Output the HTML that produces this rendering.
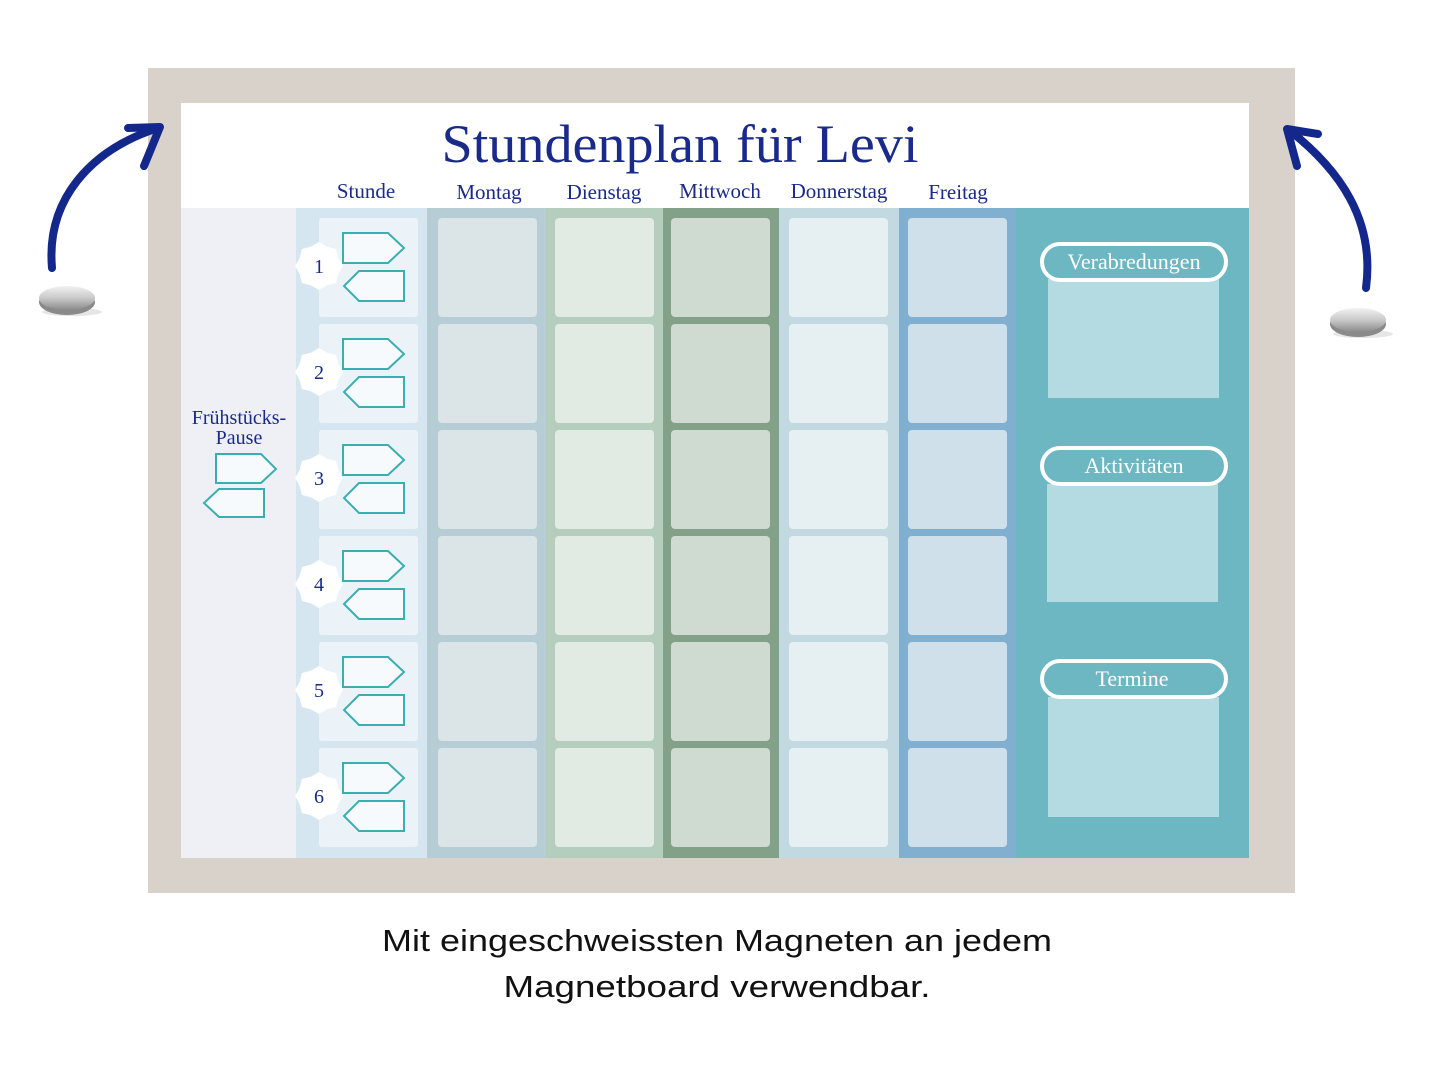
<!DOCTYPE html>
<html><head><meta charset="utf-8"><style>
html,body{margin:0;padding:0;background:#fff}
svg{display:block}
</style></head><body>
<svg width="1445" height="1084" viewBox="0 0 1445 1084" xmlns="http://www.w3.org/2000/svg">
<defs>
<linearGradient id="mg" x1="0" y1="0" x2="0" y2="1">
<stop offset="0" stop-color="#f2f2f2"/><stop offset="0.5" stop-color="#c9c9c9"/><stop offset="1" stop-color="#8a8a8a"/>
</linearGradient>
<g id="row">
<rect x="319" y="218" width="99" height="99" rx="3" fill="#ebf3f9"/>
<polygon points="343,233 388,233 404,248 388,263 343,263" fill="#f7fafc" stroke="#3aaeb0" stroke-width="2"/>
<polygon points="404,271 359,271 344,286 359,301 404,301" fill="#f7fafc" stroke="#3aaeb0" stroke-width="2"/>
<polygon transform="translate(319,266)" fill="#fff" points="24,0 19.4,8 17,17 8,19.4 0,24 -8,19.4 -17,17 -19.4,8 -24,0 -19.4,-8 -17,-17 -8,-19.4 0,-24 8,-19.4 17,-17 19.4,-8"/>
<rect x="438" y="218" width="99" height="99" rx="4" fill="#dbe4e7"/>
<rect x="555" y="218" width="99" height="99" rx="4" fill="#e1eae3"/>
<rect x="671" y="218" width="99" height="99" rx="4" fill="#cfdad0"/>
<rect x="789" y="218" width="99" height="99" rx="4" fill="#e6eff2"/>
<rect x="908" y="218" width="99" height="99" rx="4" fill="#cfe0eb"/>
</g>
</defs>
<rect x="148" y="68" width="1147" height="825" fill="#d8d2cb"/>
<rect x="181" y="103" width="1068" height="755" fill="#fff"/>
<rect x="181" y="208" width="115" height="650" fill="#eef0f5"/>
<rect x="296" y="208" width="131" height="650" fill="#d6e6f1"/>
<rect x="427" y="208" width="119" height="650" fill="#b7cdd6"/>
<rect x="546" y="208" width="117" height="650" fill="#b5cdbc"/>
<rect x="663" y="208" width="116" height="650" fill="#83a088"/>
<rect x="779" y="208" width="120" height="650" fill="#c2d9e1"/>
<rect x="899" y="208" width="117" height="650" fill="#80afcf"/>
<rect x="1016" y="208" width="233" height="650" fill="#6db7c3"/>
<use href="#row"/>
<use href="#row" y="106"/>
<use href="#row" y="212"/>
<use href="#row" y="318"/>
<use href="#row" y="424"/>
<use href="#row" y="530"/>
<g font-family="Liberation Serif, serif" fill="#1a2a8a" font-size="20" text-anchor="middle">
<text x="319" y="273">1</text><text x="319" y="379">2</text><text x="319" y="485">3</text>
<text x="319" y="591">4</text><text x="319" y="697">5</text><text x="319" y="803">6</text>
<text x="680" y="162" font-size="54" textLength="477" lengthAdjust="spacingAndGlyphs">Stundenplan für Levi</text>
<text x="366" y="198" font-size="21">Stunde</text>
<text x="489" y="199" font-size="21">Montag</text>
<text x="604" y="199" font-size="21">Dienstag</text>
<text x="720" y="198" font-size="21">Mittwoch</text>
<text x="839" y="198" font-size="21">Donnerstag</text>
<text x="958" y="199" font-size="21">Freitag</text>
<text x="239" y="424" font-size="20">Frühstücks-</text>
<text x="239" y="444" font-size="20">Pause</text>
</g>
<polygon points="216,454 261,454 276,469 261,483 216,483" fill="#f7fafc" stroke="#3aaeb0" stroke-width="2"/>
<polygon points="264,489 219,489 204,503 219,517 264,517" fill="#f7fafc" stroke="#3aaeb0" stroke-width="2"/>
<rect x="1048" y="279" width="171" height="119" fill="#b3dbe1"/>
<rect x="1047" y="484" width="171" height="118" fill="#b3dbe1"/>
<rect x="1048" y="697" width="171" height="120" fill="#b3dbe1"/>
<g fill="#6db7c3" stroke="#fff" stroke-width="4">
<rect x="1042" y="244" width="184" height="36" rx="18"/>
<rect x="1042" y="448" width="184" height="36" rx="18"/>
<rect x="1042" y="661" width="184" height="36" rx="18"/>
</g>
<g font-family="Liberation Serif, serif" fill="#fff" font-size="22" text-anchor="middle">
<text x="1134" y="269">Verabredungen</text>
<text x="1134" y="473">Aktivitäten</text>
<text x="1132" y="686">Termine</text>
</g>
<g fill="none" stroke="#13288a" stroke-width="8" stroke-linecap="round" stroke-linejoin="round">
<path d="M52,268 C46,200 90,150 158,128"/>
<path d="M128,128 L160,127 L144,166"/>
<path d="M1366,288 C1375,220 1340,170 1289,130"/>
<path d="M1318,134 L1287,129 L1297,166"/>
</g>
<ellipse cx="72" cy="312" rx="30" ry="4" fill="#e6e6e6"/>
<ellipse cx="67" cy="302" rx="28" ry="13" fill="#8a8a8a"/>
<ellipse cx="67" cy="298" rx="28" ry="12" fill="url(#mg)"/>
<ellipse cx="1363" cy="334" rx="30" ry="4" fill="#e6e6e6"/>
<ellipse cx="1358" cy="324" rx="28" ry="13" fill="#8a8a8a"/>
<ellipse cx="1358" cy="320" rx="28" ry="12" fill="url(#mg)"/>
<g font-family="Liberation Sans, sans-serif" fill="#111" font-size="31" text-anchor="middle">
<text x="717" y="951" textLength="670" lengthAdjust="spacingAndGlyphs">Mit eingeschweissten Magneten an jedem</text>
<text x="717" y="997" textLength="427" lengthAdjust="spacingAndGlyphs">Magnetboard verwendbar.</text>
</g>
</svg>
</body></html>
